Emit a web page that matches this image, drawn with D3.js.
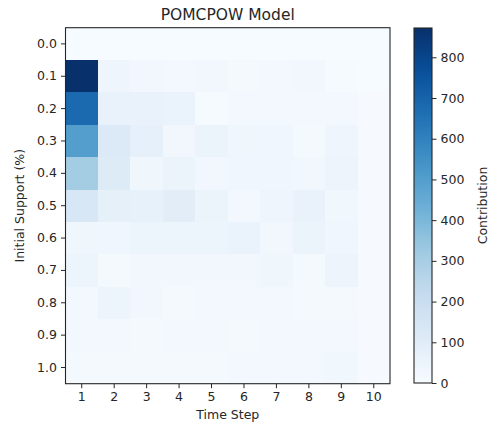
<!DOCTYPE html>
<html>
<head>
<meta charset="utf-8">
<script src="https://cdn.jsdelivr.net/npm/d3@7"></script>
<style>
  html, body { margin: 0; padding: 0; background: #fff; }
  svg text { font-family: "DejaVu Sans", sans-serif; fill: #262626; }
</style>
</head>
<body>
<svg id="chart" width="500" height="429"></svg>
<script>
// Time steps (columns) and initial support levels (rows)
const timeSteps = [1, 2, 3, 4, 5, 6, 7, 8, 9, 10];
const supportLevels = ["0.0", "0.1", "0.2", "0.3", "0.4", "0.5", "0.6", "0.7", "0.8", "0.9", "1.0"];

// Contribution per support level, one value per time step
const row00 = [3, 3, 3, 3, 3, 3, 3, 3, 3, 3];
const row01 = [872, 40, 25, 22, 25, 15, 20, 25, 8, 3];
const row02 = [680, 60, 62, 55, 10, 18, 18, 18, 22, 5];
const row03 = [500, 120, 72, 25, 50, 35, 32, 12, 40, 5];
const row04 = [310, 112, 35, 48, 28, 32, 32, 28, 45, 6];
const row05 = [135, 75, 70, 92, 48, 20, 40, 62, 30, 6];
const row06 = [35, 32, 42, 42, 42, 58, 28, 50, 32, 6];
const row07 = [42, 15, 28, 28, 28, 28, 35, 15, 45, 6];
const row08 = [18, 42, 28, 12, 18, 18, 18, 14, 14, 5];
const row09 = [20, 20, 12, 18, 18, 15, 22, 22, 22, 5];
const row10 = [15, 15, 15, 15, 15, 22, 22, 22, 30, 5];
const contributions = [row00, row01, row02, row03, row04, row05, row06, row07, row08, row09, row10];

const colorTicks = [0, 100, 200, 300, 400, 500, 600, 700, 800];
const vMax = 872;

// Blues colour ramp (ColorBrewer stops, linear RGB interpolation)
const bluesStops = ["#f7fbff", "#deebf7", "#c6dbef", "#9ecae1", "#6baed6", "#4292c6", "#2171b5", "#08519c", "#08306b"];
const color = d3.scaleLinear()
  .domain(bluesStops.map((_, i) => vMax * i / (bluesStops.length - 1)))
  .range(bluesStops)
  .interpolate(d3.interpolateRgb)
  .clamp(true);

const svg = d3.select("#chart");
const plot = { left: 65.5, top: 27.7, right: 390, bottom: 383.7 };

const x = d3.scaleBand().domain(timeSteps).range([plot.left, plot.right]).padding(0);
const y = d3.scaleBand().domain(supportLevels).range([plot.top, plot.bottom]).padding(0);

// Heatmap cells
const cells = [];
contributions.forEach((row, ri) => row.forEach((v, ci) => cells.push({ s: supportLevels[ri], t: timeSteps[ci], v })));
svg.append("g").selectAll("rect").data(cells).join("rect")
  .attr("x", d => x(d.t))
  .attr("y", d => y(d.s))
  .attr("width", x.bandwidth() + 0.4)
  .attr("height", y.bandwidth() + 0.4)
  .attr("fill", d => color(d.v))
  .attr("shape-rendering", "crispEdges");

// Axes
const xAxis = svg.append("g")
  .attr("transform", `translate(0,${plot.bottom})`)
  .call(d3.axisBottom(x).tickSizeOuter(0).tickSize(4.5).tickPadding(4));
const yAxis = svg.append("g")
  .attr("transform", `translate(${plot.left},0)`)
  .call(d3.axisLeft(y).tickSizeOuter(0).tickSize(4.5).tickPadding(4));
[xAxis, yAxis].forEach(a => {
  a.select(".domain").remove();
  a.selectAll("line").attr("stroke", "#262626").attr("stroke-width", 1);
  a.selectAll("text").attr("font-size", "12.5px").attr("fill", "#262626")
    .attr("font-family", "DejaVu Sans, sans-serif");
});

// Plot frame
svg.append("rect")
  .attr("x", plot.left).attr("y", plot.top)
  .attr("width", plot.right - plot.left).attr("height", plot.bottom - plot.top)
  .attr("fill", "none").attr("stroke", "#262626").attr("stroke-width", 1.1);

// Title and axis labels
svg.append("text")
  .attr("x", (plot.left + plot.right) / 2).attr("y", 20)
  .attr("text-anchor", "middle").attr("font-size", "15.5px")
  .text("POMCPOW Model");
svg.append("text")
  .attr("x", (plot.left + plot.right) / 2).attr("y", 419)
  .attr("text-anchor", "middle").attr("font-size", "12.5px")
  .text("Time Step");
svg.append("text")
  .attr("transform", `translate(24,${(plot.top + plot.bottom) / 2}) rotate(-90)`)
  .attr("text-anchor", "middle").attr("font-size", "12.5px")
  .text("Initial Support (%)");

// Colour bar
const cb = { left: 414, right: 432, top: 28, bottom: 383 };
const cbScale = d3.scaleLinear().domain([0, vMax]).range([cb.bottom, cb.top]);
const defs = svg.append("defs");
const grad = defs.append("linearGradient").attr("id", "cbGrad")
  .attr("x1", 0).attr("y1", 1).attr("x2", 0).attr("y2", 0);
d3.range(0, 1.0001, 0.05).forEach(t => {
  grad.append("stop").attr("offset", t).attr("stop-color", color(t * vMax));
});
svg.append("rect")
  .attr("x", cb.left).attr("y", cb.top)
  .attr("width", cb.right - cb.left).attr("height", cb.bottom - cb.top)
  .attr("fill", "url(#cbGrad)")
  .attr("stroke", "#262626").attr("stroke-width", 1.1);
const cbAxis = svg.append("g")
  .attr("transform", `translate(${cb.right},0)`)
  .call(d3.axisRight(cbScale).tickValues(colorTicks).tickSize(4.5).tickPadding(4));
cbAxis.select(".domain").remove();
cbAxis.selectAll("line").attr("stroke", "#262626");
cbAxis.selectAll("text").attr("font-size", "12.5px").attr("fill", "#262626")
  .attr("font-family", "DejaVu Sans, sans-serif");
svg.append("text")
  .attr("transform", `translate(487,${(cb.top + cb.bottom) / 2}) rotate(-90)`)
  .attr("text-anchor", "middle").attr("font-size", "12.5px")
  .text("Contribution");
</script>
</body>
</html>
